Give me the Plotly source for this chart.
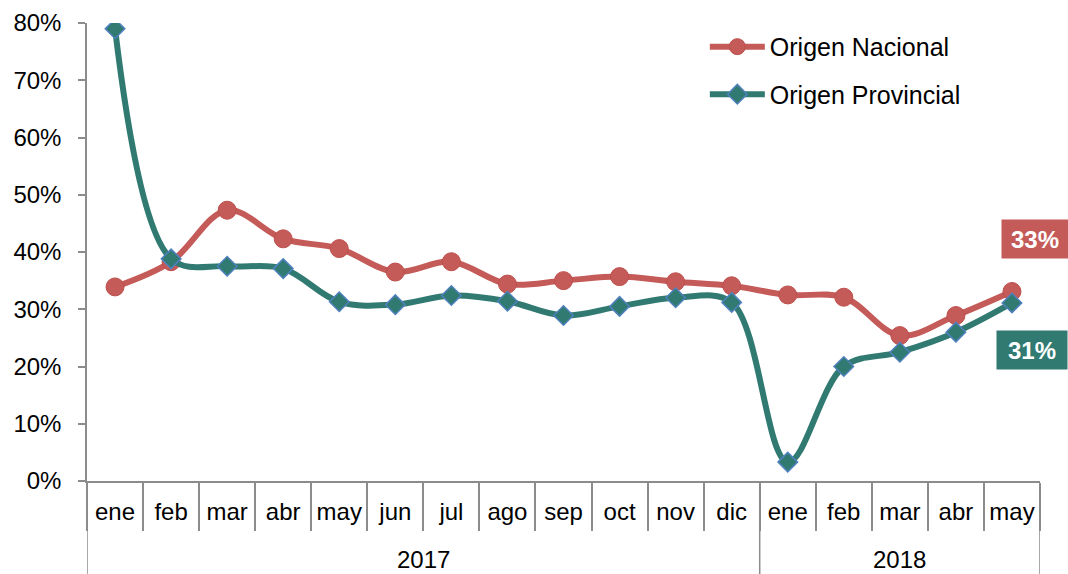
import plotly.graph_objects as go

years = ["2017", "2017", "2017", "2017", "2017", "2017", "2017", "2017", "2017", "2017", "2017", "2017",
         "2018", "2018", "2018", "2018", "2018"]
months = ["ene", "feb", "mar", "abr", "may", "jun", "jul", "ago", "sep", "oct", "nov", "dic",
          "ene", "feb", "mar", "abr", "may"]
nacional = [0.339, 0.383, 0.473, 0.423, 0.406, 0.365, 0.383, 0.344, 0.350, 0.357, 0.348, 0.341,
            0.325, 0.321, 0.254, 0.289, 0.331]
provincial = [0.790, 0.388, 0.375, 0.371, 0.313, 0.308, 0.324, 0.314, 0.289, 0.305, 0.320, 0.312,
              0.033, 0.200, 0.225, 0.260, 0.311]

RED = "#C45B58"
TEAL = "#317A72"
FONT = "Liberation Sans, Arial, sans-serif"
GRAY = "#8C8C8C"

idx = list(range(len(months)))

fig = go.Figure()
fig.add_trace(go.Scatter(
    x=idx, y=nacional, name="Origen Nacional", legendgroup="a",
    customdata=[y + " " + m for y, m in zip(years, months)],
    mode="lines+markers",
    line=dict(color=RED, width=6, shape="spline", smoothing=1),
    marker=dict(symbol="circle", size=18, color=RED, line=dict(color="#BE4F4C", width=1)),
))
fig.add_trace(go.Scatter(
    x=idx, y=provincial, name="Origen Provincial", legendgroup="b",
    customdata=[y + " " + m for y, m in zip(years, months)],
    mode="lines+markers",
    line=dict(color=TEAL, width=6, shape="spline", smoothing=1),
    marker=dict(symbol="diamond", size=15, color=TEAL, line=dict(color="#4F81BD", width=1.5)),
))

# year group labels and dividers
groups = []
for i, yv in enumerate(years):
    if not groups or groups[-1][0] != yv:
        groups.append([yv, i, i])
    else:
        groups[-1][2] = i
for yv, a, b in groups:
    fig.add_annotation(xref="x", yref="paper", x=(a + b) / 2, y=-0.171,
                       text=yv, showarrow=False, yanchor="middle",
                       font=dict(family=FONT, size=24, color="black"))
bounds = [groups[0][1] - 0.5] + [g[2] + 0.5 for g in groups]
for bx in bounds:
    fig.add_shape(type="line", xref="x", yref="paper", x0=bx, x1=bx, y0=0, y1=-0.205,
                  line=dict(color=GRAY, width=1.5))

fig.add_annotation(xref="paper", yref="paper", x=0.9948, y=0.5294,
                   text="<b>%d%%</b>" % round(nacional[-1] * 100), showarrow=False,
                   bgcolor=RED, width=66, height=38, borderpad=0,
                   font=dict(family=FONT, size=24, color="white"),
                   xanchor="center", yanchor="middle")
fig.add_annotation(xref="paper", yref="paper", x=0.9916, y=0.2865,
                   text="<b>%d%%</b>" % round(provincial[-1] * 100), showarrow=False,
                   bgcolor=TEAL, width=70, height=38, borderpad=0,
                   font=dict(family=FONT, size=24, color="white"),
                   xanchor="center", yanchor="middle")

fig.update_layout(
    width=1068, height=574,
    margin=dict(l=87, r=28, t=23, b=92.5),
    paper_bgcolor="white", plot_bgcolor="white",
    font=dict(family=FONT, size=24, color="black"),
    showlegend=True,
    legend=dict(x=0.6483, y=0.998, xanchor="left", yanchor="top",
                font=dict(family=FONT, size=25, color="black"),
                itemwidth=55, tracegroupgap=12, bgcolor="rgba(0,0,0,0)"),
    xaxis=dict(type="linear", range=[-0.5, len(months) - 0.5], automargin=False,
               tickmode="array", tickvals=idx, ticktext=months, ticks="",
               showline=True, linecolor=GRAY, linewidth=1.5,
               minor=dict(tick0=-0.5, dtick=1, ticks="outside", ticklen=48,
                          tickcolor=GRAY, tickwidth=1.5, showgrid=False),
               ticklabelstandoff=8, tickangle=0, showgrid=False, zeroline=False,
               tickfont=dict(family=FONT, size=24, color="black")),
    yaxis=dict(range=[0, 0.8], dtick=0.1, tickformat=".0%", showline=True, automargin=False,
               linecolor=GRAY, linewidth=1.5, ticks="outside", ticklen=7,
               tickcolor=GRAY, tickwidth=1.5, showgrid=False, zeroline=False,
               ticklabelstandoff=12, tickfont=dict(family=FONT, size=24, color="black")),
)

fig.write_html("out.html", config={"displayModeBar": False},
               post_script="document.body.style.margin='0';document.body.style.overflow='hidden';")
